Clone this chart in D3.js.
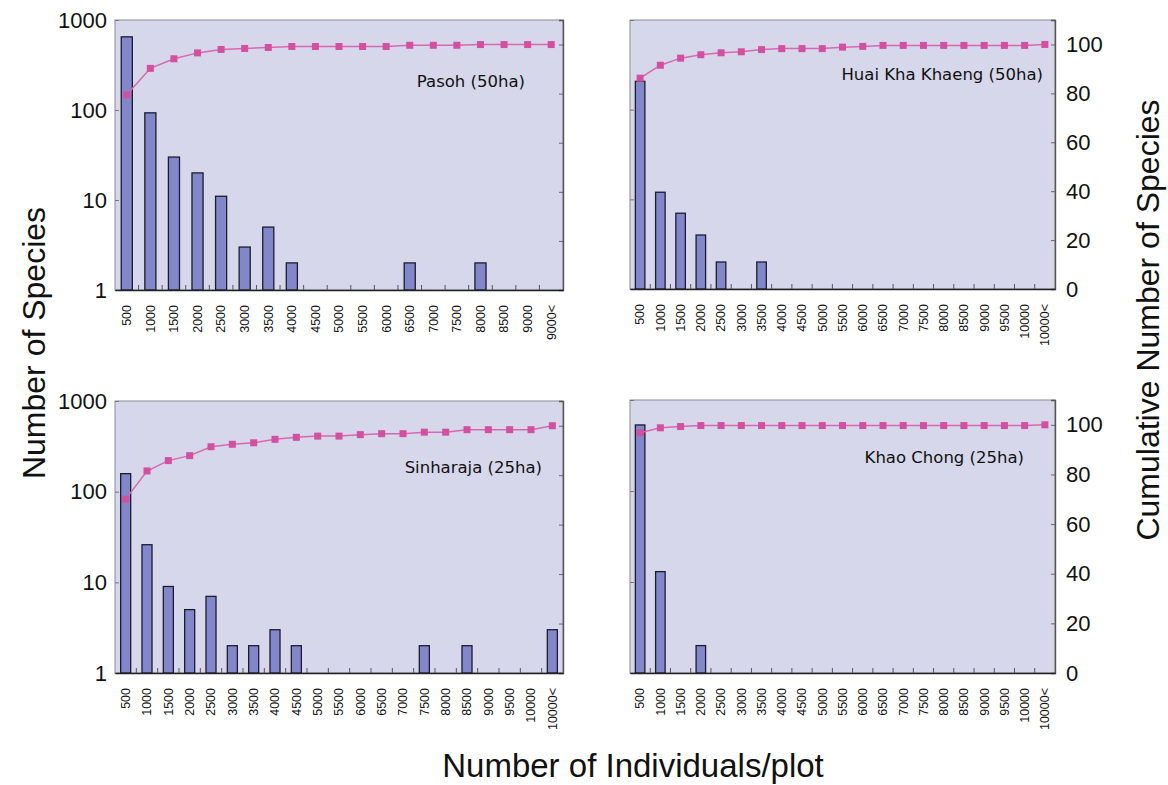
<!DOCTYPE html>
<html>
<head>
<meta charset="utf-8">
<script src="https://cdn.jsdelivr.net/npm/d3@7"></script>
<style>
  html, body { margin: 0; padding: 0; background: #ffffff; }
  svg { display: block; }
</style>
</head>
<body>
<svg id="chart" width="1168" height="785"></svg>
<script>
// Abundance classes (number of individuals per plot)
const classesPasoh = ["500","1000","1500","2000","2500","3000","3500","4000","4500","5000",
  "5500","6000","6500","7000","7500","8000","8500","9000","9000<"];
const classesWide = ["500","1000","1500","2000","2500","3000","3500","4000","4500","5000",
  "5500","6000","6500","7000","7500","8000","8500","9000","9500","10000","10000<"];

// Number of species in each class (0 = no species)
const pasohSpecies = [650, 93, 30, 20, 11, 3, 5, 2, 0, 0, 0, 0, 2, 0, 0, 2, 0, 0, 0];
const hkkSpecies   = [207, 12, 7, 4, 2, 0, 2, 0, 0, 0, 0, 0, 0, 0, 0, 0, 0, 0, 0, 0, 0];
const sinharajaSpecies = [158, 26, 9, 5, 7, 2, 2, 3, 2, 0, 0, 0, 0, 0, 2, 0, 2, 0, 0, 0, 3];
const khaoChongSpecies = [532, 13, 0, 2, 0, 0, 0, 0, 0, 0, 0, 0, 0, 0, 0, 0, 0, 0, 0, 0, 0];

// Cumulative share of species (%)
const pasohCum = [79.5, 90.3, 94.2, 96.6, 98.0, 98.4, 98.8, 99.2, 99.2, 99.2, 99.2, 99.2,
  99.7, 99.7, 99.7, 100, 100, 100, 100];
const hkkCum = [86.2, 91.5, 94.4, 95.8, 96.6, 97.0, 97.9, 98.3, 98.3, 98.3, 98.9, 99.2,
  99.6, 99.6, 99.6, 99.6, 99.6, 99.6, 99.6, 99.6, 100];
const sinharajaCum = [70.3, 81.7, 85.9, 87.9, 91.5, 92.5, 93.1, 94.5, 95.3, 95.8, 95.8, 96.4,
  96.8, 96.8, 97.4, 97.4, 98.4, 98.4, 98.4, 98.4, 100];
const khaoChongCum = [96.8, 98.8, 99.3, 99.7, 99.7, 99.7, 99.7, 99.7, 99.7, 99.7, 99.7, 99.7,
  99.7, 99.7, 99.7, 99.7, 99.7, 99.7, 99.7, 99.7, 100];

// Axis ticks
const speciesTicks = [1, 10, 100, 1000];
const cumTicks = [0, 20, 40, 60, 80, 100];

// Panel layout
const panels = [
  { title: "Pasoh (50ha)", classes: classesPasoh, species: pasohSpecies, cum: pasohCum,
    x0: 115, x1: 563, y0: 20, y1: 290, side: "left", tx: 525, ty: 87 },
  { title: "Huai Kha Khaeng (50ha)", classes: classesWide, species: hkkSpecies, cum: hkkCum,
    x0: 630, x1: 1055, y0: 20, y1: 289, side: "right", tx: 1043, ty: 80 },
  { title: "Sinharaja (25ha)", classes: classesWide, species: sinharajaSpecies, cum: sinharajaCum,
    x0: 115, x1: 563, y0: 401, y1: 673, side: "left", tx: 542, ty: 473 },
  { title: "Khao Chong (25ha)", classes: classesWide, species: khaoChongSpecies, cum: khaoChongCum,
    x0: 630, x1: 1055, y0: 400, y1: 673, side: "right", tx: 1024, ty: 463 }
];

const colors = {
  plotBg: "#d6d7ea",
  bar: "#8187c9",
  barStroke: "#1c1c30",
  line: "#d868ad",
  marker: "#d2509f",
  frame: "#8a8a96"
};

const svg = d3.select("#chart");

panels.forEach(p => {
  const g = svg.append("g");
  const cell = d3.scaleBand().domain(p.classes).range([p.x0, p.x1]).padding(0);
  const yLog = d3.scaleLog().domain([1, 1000]).range([p.y1, p.y0]);
  const yCum = d3.scaleLinear().domain([0, 110]).range([p.y1, p.y0]);
  const step = cell.bandwidth();
  const bw = step * 0.47;
  const cx = c => cell(c) + step / 2;

  // plot area
  g.append("rect")
    .attr("x", p.x0).attr("y", p.y0)
    .attr("width", p.x1 - p.x0).attr("height", p.y1 - p.y0)
    .attr("fill", colors.plotBg)
    .attr("stroke", colors.frame).attr("stroke-width", 1);

  // species bars
  const barData = p.classes.map((c, i) => ({ c, v: p.species[i] })).filter(d => d.v > 1);
  g.selectAll("rect.bar").data(barData).join("rect")
    .attr("class", "bar")
    .attr("x", d => cx(d.c) - bw / 2)
    .attr("y", d => yLog(d.v))
    .attr("width", bw)
    .attr("height", d => p.y1 - yLog(d.v))
    .attr("fill", colors.bar)
    .attr("stroke", colors.barStroke)
    .attr("stroke-width", 1.3);

  // cumulative line and markers
  const cumData = p.classes.map((c, i) => ({ c, v: p.cum[i] }));
  g.append("path")
    .datum(cumData)
    .attr("d", d3.line().x(d => cx(d.c)).y(d => yCum(d.v)))
    .attr("fill", "none")
    .attr("stroke", colors.line)
    .attr("stroke-width", 1.5);
  g.selectAll("rect.mk").data(cumData).join("rect")
    .attr("class", "mk")
    .attr("x", d => cx(d.c) - 3.5)
    .attr("y", d => yCum(d.v) - 3.5)
    .attr("width", 7).attr("height", 7)
    .attr("fill", colors.marker);

  // left axis (log, species)
  const left = d3.axisLeft(yLog).tickValues(speciesTicks).tickSize(-4).tickPadding(8)
    .tickFormat(p.side === "left" ? d3.format("d") : () => "");
  const gl = g.append("g").attr("transform", `translate(${p.x0},0)`).call(left);
  gl.select(".domain").remove();
  gl.selectAll("line").attr("stroke", "#777");
  gl.selectAll("text").attr("font-family", "Liberation Sans, Arial, sans-serif")
    .attr("font-size", 22).attr("fill", "#111");

  // right axis (cumulative %)
  const right = d3.axisRight(yCum).tickValues(cumTicks).tickSize(-4).tickPadding(11)
    .tickFormat(p.side === "right" ? d3.format("d") : () => "");
  const gr = g.append("g").attr("transform", `translate(${p.x1},0)`).call(right);
  gr.select(".domain").attr("stroke", "#555").attr("stroke-width", 1.4);
  gr.selectAll("line").attr("stroke", "#666");
  gr.selectAll("text").attr("font-family", "Liberation Sans, Arial, sans-serif")
    .attr("font-size", 22).attr("fill", "#111");

  // class boundary ticks along the bottom axis
  const bottom = d3.axisBottom(cell).tickSize(0).tickFormat("");
  const gb = g.append("g").attr("transform", `translate(0,${p.y1})`).call(bottom);
  gb.select(".domain").attr("stroke", "#222").attr("stroke-width", 1.6);
  gb.selectAll(".tick").remove();
  gb.selectAll("line.sep").data(p.classes.slice(1)).join("line")
    .attr("class", "sep")
    .attr("x1", d => cell(d)).attr("x2", d => cell(d))
    .attr("y1", 0).attr("y2", -5)
    .attr("stroke", "#555").attr("stroke-width", 1);

  // rotated class labels
  g.selectAll("text.cls").data(p.classes).join("text")
    .attr("class", "cls")
    .attr("transform", d => `translate(${cx(d)},${p.y1 + 15}) rotate(-90)`)
    .attr("text-anchor", "end")
    .attr("dy", "0.35em")
    .attr("font-family", "Liberation Sans, Arial, sans-serif")
    .attr("font-size", 12.5)
    .attr("fill", "#111")
    .text(d => d);

  // site label
  g.append("text")
    .attr("x", p.tx).attr("y", p.ty)
    .attr("text-anchor", "end")
    .attr("font-family", "DejaVu Sans, sans-serif")
    .attr("font-size", 16.5)
    .attr("fill", "#111")
    .text(p.title);
});

// axis titles
const titleFont = "Liberation Sans, Arial, sans-serif";
svg.append("text")
  .attr("transform", "translate(45,343) rotate(-90)")
  .attr("text-anchor", "middle")
  .attr("font-family", titleFont).attr("font-size", 32).attr("fill", "#111")
  .text("Number of Species");
svg.append("text")
  .attr("transform", "translate(1159,320) rotate(-90)")
  .attr("text-anchor", "middle")
  .attr("font-family", titleFont).attr("font-size", 32).attr("fill", "#111")
  .text("Cumulative Number of Species");
svg.append("text")
  .attr("x", 633).attr("y", 777)
  .attr("text-anchor", "middle")
  .attr("font-family", titleFont).attr("font-size", 33).attr("fill", "#111")
  .text("Number of Individuals/plot");
</script>
</body>
</html>
